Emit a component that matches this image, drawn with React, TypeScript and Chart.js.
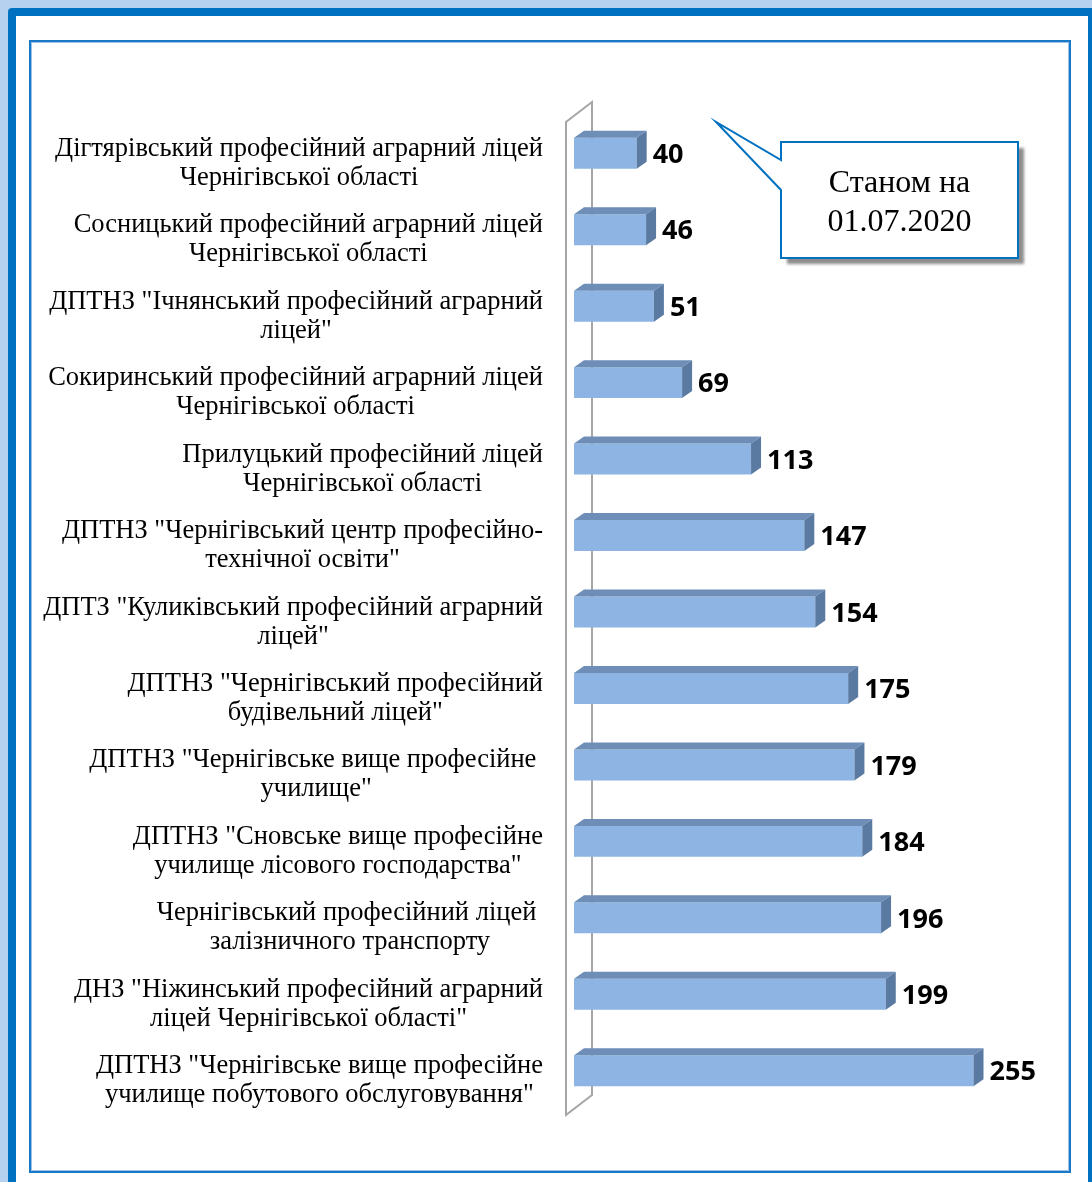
import React, { useEffect, useRef } from "react";
import { Chart, registerables } from "chart.js";

Chart.register(...registerables);

const categories: string[][] = [
  ["Дігтярівський професійний аграрний ліцей", "Чернігівської області"],
  ["Сосницький професійний аграрний ліцей", "Чернігівської області"],
  ["ДПТНЗ \"Ічнянський професійний аграрний", "ліцей\""],
  ["Сокиринський професійний аграрний ліцей", "Чернігівської області"],
  ["Прилуцький професійний ліцей", "Чернігівської області"],
  ["ДПТНЗ \"Чернігівський центр професійно-", "технічної освіти\""],
  ["ДПТЗ \"Куликівський професійний аграрний", "ліцей\""],
  ["ДПТНЗ \"Чернігівський професійний", "будівельний ліцей\""],
  ["ДПТНЗ \"Чернігівське вище професійне ", "училище\""],
  ["ДПТНЗ \"Сновське вище професійне", "училище лісового господарства\""],
  ["Чернігівський професійний ліцей ", "залізничного транспорту"],
  ["ДНЗ \"Ніжинський професійний аграрний", "ліцей Чернігівської області\""],
  ["ДПТНЗ \"Чернігівське вище професійне", "училище побутового обслуговування\""],
];

const values: number[] = [40, 46, 51, 69, 113, 147, 154, 175, 179, 184, 196, 199, 255];

const axisMin = 0;
const axisMax = 300;

const calloutLines: string[] = ["Станом на", "01.07.2020"];

const W = 1092;
const H = 1182;

export default function App() {
  const ref = useRef<HTMLCanvasElement>(null);

  useEffect(() => {
    document.body.style.margin = "0";
    const canvas = ref.current;
    if (!canvas) return;
    const dx = 10;
    const dy = -7;

    const bars3d = {
      id: "bars3d",
      beforeDatasetsDraw(chart: any) {
        const { ctx, chartArea } = chart;
        ctx.save();
        ctx.strokeStyle = "#A6A6A6";
        ctx.lineWidth = 2;
        const fx = chartArea.left - 8;
        const bx = chartArea.left + 18;
        const ft = chartArea.top + 7;
        const fb = chartArea.bottom + 6;
        const bt = ft - 20;
        const bb = fb - 20;
        ctx.beginPath();
        ctx.moveTo(fx, ft);
        ctx.lineTo(fx, fb);
        ctx.lineTo(bx, bb);
        ctx.lineTo(bx, bt);
        ctx.closePath();
        ctx.stroke();
        ctx.restore();
      },
      afterDatasetsDraw(chart: any) {
        const { ctx } = chart;
        const meta = chart.getDatasetMeta(0);
        ctx.save();
        meta.data.forEach((el: any, i: number) => {
          const p = el.getProps(["x", "y", "base", "height"], true);
          const top = p.y - p.height / 2;
          const bottom = p.y + p.height / 2;
          const left = Math.min(p.base, p.x);
          const right = Math.max(p.base, p.x);
          // top face
          ctx.fillStyle = "#6E8EB8";
          ctx.beginPath();
          ctx.moveTo(left, top);
          ctx.lineTo(left + dx, top + dy);
          ctx.lineTo(right + dx, top + dy);
          ctx.lineTo(right, top);
          ctx.closePath();
          ctx.fill();
          // side face
          ctx.fillStyle = "#5B7AA2";
          ctx.beginPath();
          ctx.moveTo(right, top);
          ctx.lineTo(right + dx, top + dy);
          ctx.lineTo(right + dx, bottom + dy);
          ctx.lineTo(right, bottom);
          ctx.closePath();
          ctx.fill();
          // value label
          ctx.fillStyle = "#000";
          ctx.font = "bold 27px 'Open Sans', sans-serif";
          ctx.textAlign = "left";
          ctx.textBaseline = "middle";
          ctx.fillText(String(values[i]), right + 16, p.y + 2);
        });
        ctx.restore();
      },
      afterDraw(chart: any) {
        const { ctx } = chart;
        const yScale = chart.scales.y;
        ctx.save();
        // category labels
        ctx.fillStyle = "#000";
        ctx.font = "26.5px 'Liberation Serif', 'Times New Roman', serif";
        ctx.textBaseline = "alphabetic";
        ctx.textAlign = "center";
        const rightEdge = 543;
        const lineH = 29;
        categories.forEach((lines, i) => {
          const yc = yScale.getPixelForValue(i);
          let wmax = 0;
          lines.forEach((l) => {
            wmax = Math.max(wmax, ctx.measureText(l).width);
          });
          const cx = rightEdge - wmax / 2;
          lines.forEach((l, j) => {
            ctx.fillText(l, cx, yc + 17 + (j - (lines.length - 1) / 2) * lineH);
          });
        });

        // callout
        const bxL = 781, bxT = 142, bxR = 1018, bxB = 258;
        ctx.save();
        ctx.fillStyle = "#8C8C8C";
        ctx.filter = "blur(1.5px)";
        ctx.fillRect(bxL + 6, bxT + 6, bxR - bxL, bxB - bxT);
        ctx.restore();
        ctx.beginPath();
        ctx.moveTo(bxL, bxT);
        ctx.lineTo(bxR, bxT);
        ctx.lineTo(bxR, bxB);
        ctx.lineTo(bxL, bxB);
        ctx.lineTo(bxL, 190);
        ctx.lineTo(716, 122);
        ctx.lineTo(bxL, 160);
        ctx.closePath();
        ctx.fillStyle = "#fff";
        ctx.fill();
        ctx.strokeStyle = "#0070C0";
        ctx.lineWidth = 2;
        ctx.stroke();
        ctx.fillStyle = "#000";
        ctx.font = "32px 'Liberation Serif', 'Times New Roman', serif";
        ctx.textAlign = "center";
        ctx.textBaseline = "alphabetic";
        const cxc = (bxL + bxR) / 2;
        calloutLines.forEach((l, j) => {
          ctx.fillText(l, cxc, 192 + j * 39);
        });
        ctx.restore();
      },
    };

    const chart = new Chart(canvas, {
      type: "bar",
      data: {
        labels: categories,
        datasets: [
          {
            data: values,
            backgroundColor: "#8DB4E2",
            borderWidth: 0,
            barPercentage: 0.405,
            categoryPercentage: 1,
          },
        ],
      },
      options: {
        indexAxis: "y",
        responsive: false,
        animation: false,
        devicePixelRatio: 1,
        layout: {
          padding: { left: 574, right: W - 1044, top: 115, bottom: H - 1109 },
        },
        plugins: {
          legend: { display: false },
          tooltip: { enabled: false },
          title: { display: false },
        },
        scales: {
          x: { display: false, min: axisMin, max: axisMax },
          y: { display: false },
        },
      },
      plugins: [bars3d],
    } as any);

    return () => {
      chart.destroy();
    };
  }, []);

  return (
    <div
      style={{
        position: "relative",
        width: W,
        height: H,
        overflow: "hidden",
        background: "#B6D0EF",
      }}
    >
      <div
        style={{
          position: "absolute",
          left: 8,
          top: 8,
          width: 1088,
          height: 1200,
          border: "8px solid #0070C0",
          boxSizing: "border-box",
          background: "#ffffff",
          borderRadius: 4,
        }}
      />
      <div
        style={{
          position: "absolute",
          left: 29,
          top: 40,
          width: 1042,
          height: 1133,
          border: "2px solid #1A78C8",
          boxShadow: "inset 0 0 0 1px #9CC4EA",
          boxSizing: "border-box",
        }}
      />
      <canvas
        ref={ref}
        width={W}
        height={H}
        style={{ position: "absolute", left: 0, top: 0, width: W, height: H }}
      />
    </div>
  );
}
